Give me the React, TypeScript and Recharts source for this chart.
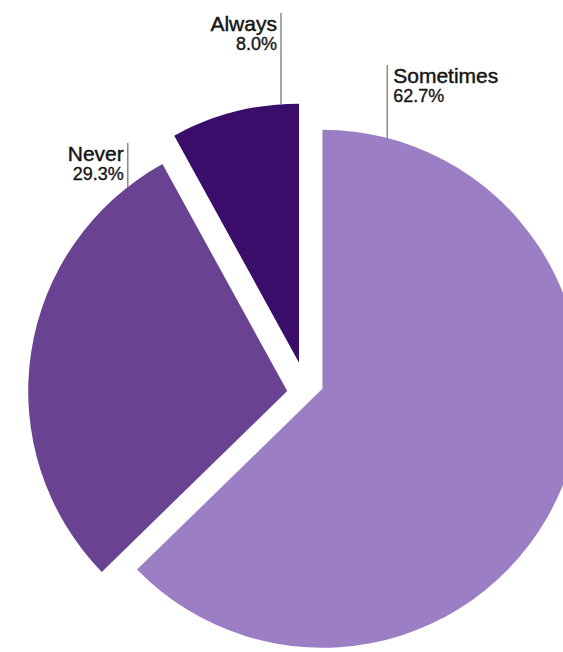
import { PieChart, Pie, Cell } from 'recharts'

// answer shares, clockwise from 12 o'clock
const categories = ['Sometimes', 'Never', 'Always']
const shares = [62.7, 29.3, 8.0]
const labels = ['Sometimes', 'Never', 'Always']
const pctLabels = ['62.7%', '29.3%', '8.0%']

const COLORS = [
  '#9c7ec5', // light purple
  '#6a4292', // mid purple
  '#3b0d6b', // dark purple
]

const data = categories.map((name, i) => ({ name, value: shares[i] }))

// layout
const WIDTH = 563
const HEIGHT = 652
const CX = 304
const CY = 382
const RADIUS = 259
const EXPLODE = 20
const START = 90
const END = -270

// small extra shift per slice on top of the explode (the source isn't perfectly radial)
const NUDGE = [
  { dx: 0, dy: -1 },
  { dx: 3, dy: 12 },
  { dx: 0, dy: 0 },
]

// where each callout leaves the arc (degrees) and how high its line goes
const LABEL_LAYOUT = [
  { angle: 75.5, top: 65, side: 'right' },
  { angle: 128, top: 143, side: 'left' },
  { angle: 94, top: 13, side: 'left' },
]

const total = shares.reduce((a, b) => a + b, 0)

function midAngle(index: number) {
  const before = shares.slice(0, index).reduce((a, b) => a + b, 0)
  const mid = before + shares[index] / 2
  return START + ((END - START) * mid) / total
}

const RAD = Math.PI / 180
const FONT = 'Liberation Sans, Arial, Helvetica, sans-serif'

function makeLabel(visible: number) {
  return (props: any) => {
    if (props.index !== visible) return null
    const layout = LABEL_LAYOUT[visible]
    const r = props.outerRadius
    const x = props.cx + r * Math.cos(layout.angle * RAD)
    const y = props.cy - r * Math.sin(layout.angle * RAD)
    const right = layout.side === 'right'
    const tx = right ? x + 6 : x - 4
    const anchor = right ? 'start' : 'end'
    return (
      <g>
        <line x1={x} y1={layout.top} x2={x} y2={y} stroke="#8a8a8a" strokeWidth={1.5} />
        <text
          x={tx}
          y={layout.top + 18}
          textAnchor={anchor}
          fontSize={21}
          fill="#151515"
          stroke="#151515"
          strokeWidth={0.45}
          fontFamily={FONT}
        >
          {labels[visible]}
        </text>
        <text
          x={tx}
          y={layout.top + 37}
          textAnchor={anchor}
          fontSize={18}
          fill="#151515"
          stroke="#151515"
          strokeWidth={0.35}
          fontFamily={FONT}
        >
          {pctLabels[visible]}
        </text>
      </g>
    )
  }
}

export default function App() {
  return (
    <div style={{ position: 'absolute', left: 0, top: 0, background: '#fff' }}>
      <PieChart width={WIDTH} height={HEIGHT} margin={{ top: 0, right: 0, bottom: 0, left: 0 }}>
        {categories.map((cat, visible) => {
          const a = midAngle(visible) * RAD
          return (
            <Pie
              key={cat}
              data={data}
              dataKey="value"
              nameKey="name"
              cx={CX + EXPLODE * Math.cos(a) + NUDGE[visible].dx}
              cy={CY - EXPLODE * Math.sin(a) + NUDGE[visible].dy}
              outerRadius={RADIUS}
              startAngle={START}
              endAngle={END}
              stroke="none"
              labelLine={false}
              label={makeLabel(visible)}
              isAnimationActive={false}
            >
              {data.map((entry, i) => (
                <Cell
                  key={`cell-${entry.name}`}
                  fill={i === visible ? COLORS[i] : 'transparent'}
                  stroke="none"
                />
              ))}
            </Pie>
          )
        })}
      </PieChart>
    </div>
  )
}
